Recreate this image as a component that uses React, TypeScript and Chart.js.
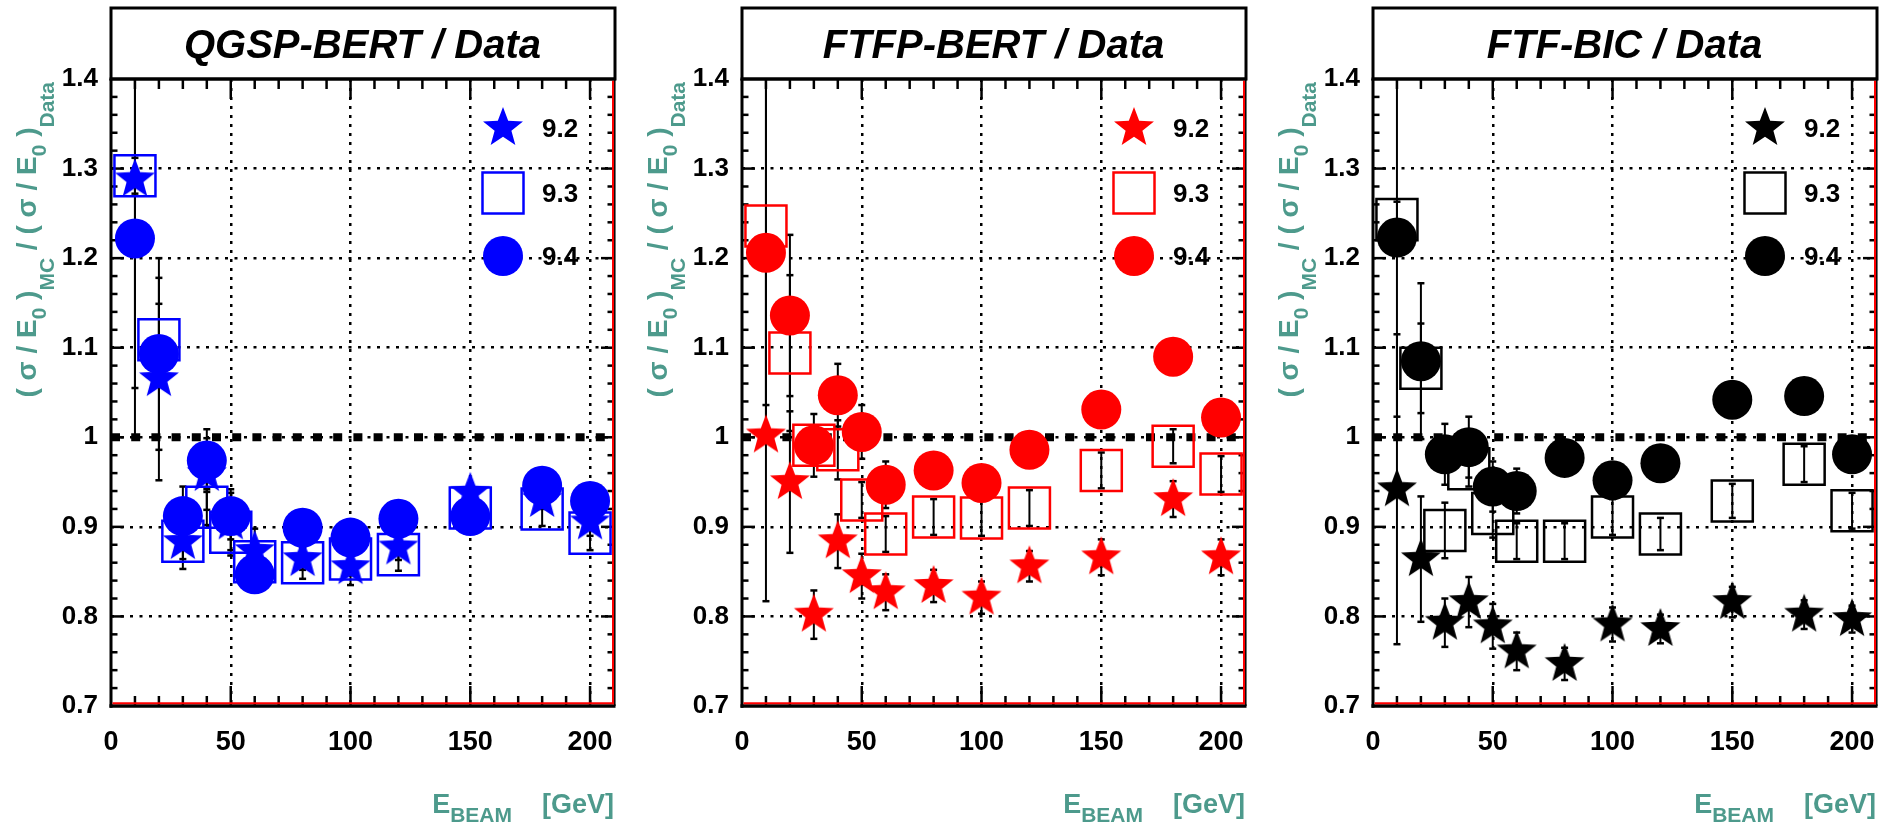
import React, { useEffect, useRef } from 'react';
import { Chart, registerables } from 'chart.js';

Chart.register(...registerables);

// Beam energies (GeV) shared by every series
const energies = [10, 20, 30, 40, 50, 60, 80, 100, 120, 150, 180, 200];
const versionLabels = ['9.2', '9.3', '9.4'];

// QGSP-BERT / Data
const qgspV92 = [1.288, 1.065, 0.883, 0.959, 0.905, 0.873, 0.864, 0.855, 0.877, 0.938, 0.93, 0.905];
const qgspV92Err = [0.233, 0.113, 0.03, 0.04, 0.037, 0.025, 0.012, 0.02, 0.014, 0.01, 0.01, 0.015];
const qgspV93 = [1.292, 1.109, 0.884, 0.922, 0.894, 0.861, 0.86, 0.864, 0.869, 0.921, 0.92, 0.893];
const qgspV93Err = [0.02, 0.04, 0.02, 0.02, 0.02, 0.015, 0.018, 0.01, 0.018, 0.01, 0.019, 0.019];
const qgspV94 = [1.222, 1.093, 0.912, 0.974, 0.912, 0.847, 0.899, 0.888, 0.909, 0.912, 0.946, 0.929];
const qgspV94Err = [0.222, 0.107, 0.033, 0.035, 0.026, 0.02, 0.015, 0.015, 0.015, 0.012, 0.012, 0.012];

// FTFP-BERT / Data
const ftfpV92 = [1.002, 0.95, 0.802, 0.884, 0.845, 0.827, 0.834, 0.821, 0.856, 0.866, 0.931, 0.866];
const ftfpV92Err = [0.185, 0.079, 0.027, 0.03, 0.025, 0.02, 0.018, 0.018, 0.017, 0.02, 0.02, 0.02];
const ftfpV93 = [1.236, 1.094, 0.991, 0.986, 0.93, 0.892, 0.911, 0.91, 0.921, 0.963, 0.99, 0.959];
const ftfpV93Err = [0.2, 0.087, 0.02, 0.033, 0.02, 0.02, 0.02, 0.02, 0.02, 0.02, 0.019, 0.02];
const ftfpV94 = [1.206, 1.136, 0.991, 1.047, 1.006, 0.947, 0.963, 0.949, 0.986, 1.031, 1.09, 1.022];
const ftfpV94Err = [0.21, 0.09, 0.035, 0.035, 0.03, 0.026, 0.015, 0.015, 0.015, 0.015, 0.015, 0.015];

// FTF-BIC / Data
const ftfV92 = [0.942, 0.864, 0.793, 0.816, 0.789, 0.761, 0.747, 0.791, 0.786, 0.816, 0.802, 0.797];
const ftfV92Err = [0.173, 0.07, 0.027, 0.028, 0.025, 0.021, 0.018, 0.019, 0.016, 0.017, 0.016, 0.015];
const ftfV93 = [1.243, 1.077, 0.896, 0.965, 0.915, 0.884, 0.884, 0.911, 0.892, 0.929, 0.97, 0.918];
const ftfV93Err = [0.02, 0.05, 0.031, 0.02, 0.027, 0.02, 0.02, 0.02, 0.018, 0.019, 0.02, 0.02];
const ftfV94 = [1.223, 1.085, 0.981, 0.989, 0.945, 0.94, 0.977, 0.952, 0.971, 1.042, 1.046, 0.981];
const ftfV94Err = [0.2, 0.087, 0.034, 0.034, 0.028, 0.025, 0.015, 0.015, 0.015, 0.015, 0.015, 0.015];

const xTickValues = [0, 50, 100, 150, 200];
const xTickLabels = ['0', '50', '100', '150', '200'];
const yTickValues = [0.7, 0.8, 0.9, 1.0, 1.1, 1.2, 1.3, 1.4];
const yTickLabels = ['0.7', '0.8', '0.9', '1', '1.1', '1.2', '1.3', '1.4'];
const referenceLevel = 1;

const panelTitles = ['QGSP-BERT / Data', 'FTFP-BERT / Data', 'FTF-BIC / Data'];
const panelColors = ['#0000ff', '#ff0000', '#000000'];
const panelSeries = [
  [[qgspV92, qgspV92Err], [qgspV93, qgspV93Err], [qgspV94, qgspV94Err]],
  [[ftfpV92, ftfpV92Err], [ftfpV93, ftfpV93Err], [ftfpV94, ftfpV94Err]],
  [[ftfV92, ftfV92Err], [ftfV93, ftfV93Err], [ftfV94, ftfV94Err]],
];

// layout (pixels)
const PAGE_W = 1888;
const PAGE_H = 824;
const PANEL_STEP = 631;
const AREA_LEFT = 111;
const AREA_RIGHT = 614;
const AREA_TOP = 79;
const AREA_BOTTOM = 706;
const X_AXIS_H = 60;
const FONT = '"Liberation Sans", Arial, Helvetica, sans-serif';
const TEAL = '#4d9a8c';

function makeStar(color: string, R = 21, ratio = 0.42) {
  const size = Math.ceil(2 * R + 4);
  const c = document.createElement('canvas');
  c.width = size;
  c.height = size;
  const g = c.getContext('2d')!;
  g.fillStyle = color;
  g.beginPath();
  for (let k = 0; k < 10; k++) {
    const r = k % 2 === 0 ? R : R * ratio;
    const a = -Math.PI / 2 + (k * Math.PI) / 5;
    const px = size / 2 + r * Math.cos(a);
    const py = size / 2 + r * Math.sin(a);
    if (k === 0) g.moveTo(px, py);
    else g.lineTo(px, py);
  }
  g.closePath();
  g.fill();
  return c;
}

type Part = { t: string; sub?: boolean; drop?: number };

function richWidth(ctx: CanvasRenderingContext2D, parts: Part[], mainFont: string, subFont: string) {
  let w = 0;
  for (const p of parts) {
    ctx.font = p.sub ? subFont : mainFont;
    w += ctx.measureText(p.t).width;
  }
  return w;
}

function drawRich(ctx: CanvasRenderingContext2D, parts: Part[], x0: number, mainFont: string, subFont: string) {
  let x = x0;
  for (const p of parts) {
    ctx.font = p.sub ? subFont : mainFont;
    ctx.fillText(p.t, x, p.sub ? p.drop || 0 : 0);
    x += ctx.measureText(p.t).width;
  }
}

const yTitleParts: Part[] = [
  { t: '( σ / E' },
  { t: '0', sub: true, drop: 10 },
  { t: ' )' },
  { t: 'MC', sub: true, drop: 18 },
  { t: ' / ( σ / E' },
  { t: '0', sub: true, drop: 10 },
  { t: ' )' },
  { t: 'Data', sub: true, drop: 18 },
];
const xTitleParts: Part[] = [
  { t: 'E' },
  { t: 'BEAM', sub: true, drop: 9 },
  { t: '    [GeV]' },
];

function line(ctx: CanvasRenderingContext2D, x1: number, y1: number, x2: number, y2: number) {
  ctx.beginPath();
  ctx.moveTo(x1, y1);
  ctx.lineTo(x2, y2);
  ctx.stroke();
}

const decorPlugin = {
  id: 'panelDecor',
  beforeDatasetsDraw(chart: any) {
    const { ctx, chartArea: a, scales } = chart;
    const xs = scales.x;
    const ys = scales.y;
    ctx.save();
    ctx.beginPath();
    ctx.rect(a.left, a.top, a.right - a.left, a.bottom - a.top);
    ctx.clip();

    // dashed reference line at ratio = 1
    const yRef = ys.getPixelForValue(referenceLevel);
    ctx.strokeStyle = '#000';
    ctx.lineWidth = 8;
    ctx.setLineDash([9, 11.2]);
    ctx.lineDashOffset = 0;
    line(ctx, xs.getPixelForValue(xs.min), yRef, xs.getPixelForValue(xs.max), yRef);
    ctx.setLineDash([]);

    // error bars
    ctx.strokeStyle = '#000';
    chart.data.datasets.forEach((ds: any) => {
      const errs: number[] = ds.errors;
      if (!errs) return;
      ds.data.forEach((p: any, i: number) => {
        const e = errs[i];
        const px = xs.getPixelForValue(p.x);
        const lo = ys.getPixelForValue(p.y - e);
        const hi = ys.getPixelForValue(p.y + e);
        ctx.lineWidth = 2;
        line(ctx, px, lo, px, hi);
        ctx.lineWidth = 2.5;
        line(ctx, px - 3.5, lo, px + 3.5, lo);
        line(ctx, px - 3.5, hi, px + 3.5, hi);
      });
    });
    ctx.restore();

    // frame ticks (inside the frame, on all four sides)
    ctx.save();
    ctx.strokeStyle = '#000';
    ctx.lineWidth = 2.5;
    for (let k = 1; k < 21; k++) {
      const v = k * 10;
      const px = xs.getPixelForValue(v);
      const len = v % 50 === 0 ? 20 : 10;
      line(ctx, px, a.bottom, px, a.bottom - len);
      line(ctx, px, a.top, px, a.top + len);
    }
    for (let k = 1; k < 35; k++) {
      const v = 0.7 + k * 0.02;
      const py = ys.getPixelForValue(v);
      const len = k % 5 === 0 ? 13 : 6.5;
      line(ctx, a.left, py, a.left + len, py);
      line(ctx, a.right, py, a.right - len, py);
    }
    // frame
    ctx.lineWidth = 3;
    line(ctx, a.left, a.top, a.left, a.bottom + 1.7);
    line(ctx, a.left - 1.5, a.top, a.right + 1.5, a.top);
    ctx.lineWidth = 3.4;
    line(ctx, a.left - 1.5, a.bottom, a.right + 1.5, a.bottom);
    ctx.lineWidth = 1.5;
    line(ctx, a.right + 0.8, a.top, a.right + 0.8, a.bottom);
    ctx.strokeStyle = '#ff0000';
    ctx.lineWidth = 2;
    line(ctx, a.left + 1.5, a.bottom - 2.7, a.right, a.bottom - 2.7);
    line(ctx, a.right - 1, a.top + 1.5, a.right - 1, a.bottom - 1.7);
    ctx.restore();
  },
  afterDraw(chart: any) {
    const { ctx, chartArea: a } = chart;
    const opts = chart.options.plugins.panelDecor;
    ctx.save();

    // title box
    ctx.strokeStyle = '#000';
    ctx.lineWidth = 3;
    ctx.strokeRect(a.left, 8, a.right - a.left + 1, a.top - 8);
    ctx.fillStyle = '#000';
    ctx.font = `italic bold 40px ${FONT}`;
    ctx.textAlign = 'center';
    ctx.textBaseline = 'alphabetic';
    ctx.fillText(opts.title, (a.left + a.right) / 2, 58);

    // legend
    const rows = [49, 114, 177];
    const cx = a.left + 392;
    const legendItems = [...chart.data.datasets].sort((p: any, q: any) => p.legendRank - q.legendRank);
    legendItems.forEach((ds: any, k: number) => {
      const cy = a.top + rows[k];
      const style = ds.pointStyle;
      if (typeof style === 'object') {
        ctx.drawImage(style, cx - style.width / 2, cy - style.height / 2);
      } else if (style === 'rect') {
        const s = ds.pointRadius * Math.SQRT1_2;
        ctx.strokeStyle = ds.borderColor;
        ctx.lineWidth = ds.pointBorderWidth;
        ctx.strokeRect(cx - s, cy - s, 2 * s, 2 * s);
      } else {
        ctx.fillStyle = ds.backgroundColor;
        ctx.beginPath();
        ctx.arc(cx, cy, ds.pointRadius, 0, Math.PI * 2);
        ctx.fill();
      }
      ctx.fillStyle = '#000';
      ctx.font = `bold 26px ${FONT}`;
      ctx.textAlign = 'left';
      ctx.textBaseline = 'middle';
      ctx.fillText(ds.label, a.left + 431, cy + 2);
    });

    // axis titles
    ctx.fillStyle = TEAL;
    ctx.textAlign = 'left';
    ctx.textBaseline = 'alphabetic';
    const mainX = `bold 27px ${FONT}`;
    const subX = `bold 21px ${FONT}`;
    const wx = richWidth(ctx, xTitleParts, mainX, subX);
    ctx.save();
    ctx.translate(a.right - wx, 813);
    drawRich(ctx, xTitleParts, 0, mainX, subX);
    ctx.restore();

    const mainY = `bold 28px ${FONT}`;
    const subY = `bold 21px ${FONT}`;
    const wy = richWidth(ctx, yTitleParts, mainY, subY);
    ctx.save();
    ctx.translate(36, 82);
    ctx.rotate(-Math.PI / 2);
    drawRich(ctx, yTitleParts, -wy, mainY, subY);
    ctx.restore();

    ctx.restore();
  },
};

function buildConfig(index: number, width: number, starImg: HTMLCanvasElement) {
  const color = panelColors[index];
  const series = panelSeries[index];
  const pts = (vals: number[]) => vals.map((v, i) => ({ x: energies[i], y: v }));
  const datasets: any[] = [
    {
      label: versionLabels[0],
      data: pts(series[0][0]),
      errors: series[0][1],
      legendRank: 0,
      order: 2,
      pointStyle: starImg,
      pointRadius: 20,
      backgroundColor: color,
      borderColor: color,
    },
    {
      label: versionLabels[1],
      data: pts(series[1][0]),
      errors: series[1][1],
      legendRank: 1,
      order: 1,
      pointStyle: 'rect',
      pointRadius: 29,
      pointBorderWidth: 2.5,
      backgroundColor: 'rgba(0,0,0,0)',
      borderColor: color,
    },
    {
      label: versionLabels[2],
      data: pts(series[2][0]),
      errors: series[2][1],
      legendRank: 2,
      order: 0,
      pointStyle: 'circle',
      pointRadius: 20,
      pointBorderWidth: 0,
      backgroundColor: color,
      borderColor: color,
    },
  ];

  const gridX = xTickValues.slice(1);
  const gridY = yTickValues.slice(1, -1);
  const noPad = (s: any) => {
    s.paddingLeft = 0;
    s.paddingRight = 0;
    s.paddingTop = 0;
    s.paddingBottom = 0;
  };

  return {
    type: 'scatter',
    data: { datasets },
    options: {
      responsive: false,
      animation: false,
      devicePixelRatio: 1,
      events: [],
      layout: {
        autoPadding: false,
        padding: {
          left: 0,
          top: AREA_TOP,
          right: width - AREA_RIGHT,
          bottom: PAGE_H - AREA_BOTTOM - X_AXIS_H,
        },
      },
      scales: {
        x: {
          type: 'linear',
          min: 0,
          max: 210,
          afterBuildTicks: (s: any) => {
            s.ticks = xTickValues.map((v) => ({ value: v }));
          },
          afterFit: (s: any) => {
            s.height = X_AXIS_H;
            noPad(s);
          },
          grid: {
            drawTicks: false,
            lineWidth: 2.5,
            color: (c: any) => (c.tick && gridX.includes(c.tick.value) ? '#000' : 'rgba(0,0,0,0)'),
          },
          border: { display: false, dash: [3, 6] },
          ticks: {
            autoSkip: false,
            maxRotation: 0,
            padding: 20,
            color: '#000',
            font: { family: FONT, size: 27, weight: 'bold' },
            callback: (_v: any, i: number) => xTickLabels[i],
          },
        },
        y: {
          type: 'linear',
          min: 0.7,
          max: 1.4,
          afterBuildTicks: (s: any) => {
            s.ticks = yTickValues.map((v) => ({ value: v }));
          },
          afterFit: (s: any) => {
            s.width = AREA_LEFT;
            noPad(s);
          },
          grid: {
            drawTicks: false,
            lineWidth: 2.5,
            color: (c: any) =>
              c.tick && gridY.some((g) => Math.abs(g - c.tick.value) < 1e-6) ? '#000' : 'rgba(0,0,0,0)',
          },
          border: { display: false, dash: [3, 6.5] },
          ticks: {
            autoSkip: false,
            padding: 13,
            color: '#000',
            font: { family: FONT, size: 26, weight: 'bold' },
            callback: (_v: any, i: number) => yTickLabels[i],
          },
        },
      },
      plugins: {
        legend: { display: false },
        tooltip: { enabled: false },
        title: { display: false },
        panelDecor: { title: panelTitles[index] },
      },
    },
    plugins: [decorPlugin],
  } as any;
}

function Panel({ index }: { index: number }) {
  const ref = useRef<HTMLCanvasElement>(null);
  const left = index * PANEL_STEP;
  const width = Math.min(PANEL_STEP, PAGE_W - left);
  useEffect(() => {
    if (!ref.current) return;
    const star = makeStar(panelColors[index]);
    const chart = new Chart(ref.current, buildConfig(index, width, star));
    return () => chart.destroy();
  }, [index, width]);
  return (
    <canvas
      ref={ref}
      width={width}
      height={PAGE_H}
      style={{ position: 'absolute', left, top: 0, width, height: PAGE_H }}
    />
  );
}

export default function App() {
  return (
    <div style={{ position: 'absolute', left: 0, top: 0, width: PAGE_W, height: PAGE_H, background: '#fff', overflow: 'hidden' }}>
      {panelTitles.map((_, i) => (
        <Panel key={i} index={i} />
      ))}
    </div>
  );
}
